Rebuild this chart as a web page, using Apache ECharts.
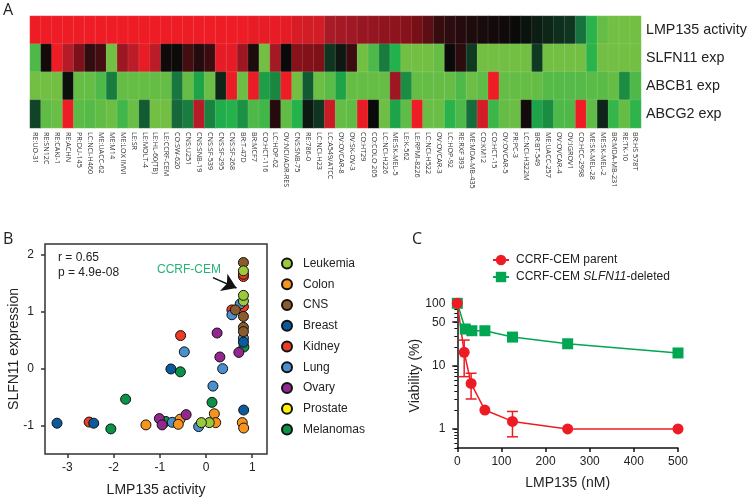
<!DOCTYPE html>
<html>
<head>
<meta charset="utf-8">
<title>LMP135</title>
<script src="https://cdn.jsdelivr.net/npm/echarts@6/dist/echarts.min.js"></script>
<style>
  html, body { margin: 0; padding: 0; background: #fff; }
  #chart { width: 750px; height: 501px; }
</style>
</head>
<body>
<div id="chart"></div>
<script>
// panel A: cell lines and heatmap rows
var cellLines = ['RE:UO-31', 'RE:SN12C', 'RE:CAKI-1', 'RE:ACHN', 'PR:DU-145', 'LC:NCI-H460', 'ME:UACC-62', 'ME:M14',
    'ME:LOX IMVI', 'LE:SR', 'LE:MOLT-4', 'LE:HL-60(TB)', 'LE:CCRF-CEM', 'CO:SW-620', 'CNS:U251', 'CNS:SNB-19',
    'CNS:SF-539', 'CNS:SF-295', 'CNS:SF-268', 'BR:T-47D', 'BR:MCF7', 'CO:HCT-116', 'LC:HOP-62', 'OV:NCI/ADR-RES',
    'CNS:SNB-75', 'RE:786-0', 'LC:NCI-H23', 'LC:A549/ATCC', 'OV:OVCAR-8', 'OV:SK-OV-3', 'CO:HT29', 'CO:COLO 205',
    'LC:NCI-H226', 'ME:SK-MEL-5', 'LE:K-562', 'LE:RPMI-8226', 'LC:NCI-H522', 'OV:OVCAR-3', 'LC:HOP-92', 'RE:RXF 393',
    'ME:MDA-MB-435', 'CO:KM12', 'CO:HCT-15', 'OV:OVCAR-5', 'PR:PC-3', 'LC:NCI-H322M', 'BR:BT-549', 'ME:UACC-257',
    'OV:OVCAR-4', 'OV:IGROV1', 'CO:HCC-2998', 'ME:SK-MEL-28', 'ME:SK-MEL-2', 'BR:MDA-MB-231', 'RE:TK-10', 'BR:HS 578T'];
var rowNames = ['LMP135 activity', 'SLFN11 exp', 'ABCB1 exp', 'ABCG2 exp'];

var lmpRow = [1, 1, 1, 1, 1, 1, 1, 1, 1, 1, 1, 1, 1, 1, 1, 1, 1, 1, 1, 1,
    .97, .97, .97, .95, .88, .85, .85, .62, .6, .56, .52, .5, .47, .45, .42, .32, .24, .13, .1, .08, .06, .04,
    .03, .02, 0, -.03, -.07, -.1, -.13, -.15, -.38, -.7, -.95, -1, -1, -1];
var slfn11Row = [-.85, .03, 1, .7, .35, .12, .17, -1, .55, .72, .97, .72, .02, .01, .17, .08, .15, .95, .95, .55,
    .06, -1, .6, 0, .42, .38, .36, -.15, -.05, .15, -1, -.85, -.42, -.67, -1, -1, -1, -.95, 0, .1, -.17,
    -1, -1, -1, -1, -1, -.17, -1, -1, -1, -1, -.7, -1, -1, -1, -1];
var abcb1Row = [-1, -1, -1, -.02, -.95, -.95, -.85, -.42, -.95, -.95, -.95, -.95, -.95, -.4, -.95, -.6, -.97, -.1, .98, -.98,
    .98, -.58, -.47, 1, -1, -.28, -.98, -.9, -.6, -.95, -.95, -.95, -.95, .55, -.5, -.95, -.95, -.95, -.95, -.85, -.98,
    -.92, 1, -.95, -.95, -.95, -.95, -.88, -.88, -.88, -.88, -.9, -.9, -.95, -.5, -.85];
var abcg2Row = [-.2, -.93, -.97, 1, -.9, -.88, -.93, -.98, -.8, -.97, -.28, -1, -1, -.33, -.43, .7, -.45, -.65, -.68, -.52,
    -.85, -.8, .08, -.93, -.68, -.05, -.15, .8, -.95, -.93, .97, 0, -.98, -.6, -.92, 1, -.97, -.97, -.7, -.85, -.35,
    .85, -.78, -.95, -.97, .03, -.6, -.5, -.85, -.85, 1, -.92, -.1, -.75, -.95, -.72];
var heatRows = [lmpRow, slfn11Row, abcb1Row, abcg2Row];

// panel B: [LMP135 activity, SLFN11 expression] per tissue
var melanomaPts = [[.82, .385], [-.555, -.05], [.13, -.585], [-1.74, -.53], [-.87, -.92], [-2.06, -1.05]];
var kidneyPts = [[.81, 1.62], [.81, 1.66], [.81, 1.09], [.56, 1.035], [-.55, .585], [-2.53, -.93]];
var lungPts = [[.74, 1.14], [.56, .95], [.81, .54], [-.47, .30], [.36, .005], [.15, -.30], [-.16, -1.01], [-.73, -.935]];
var colonPts = [[.18, -.785], [.21, -.94], [-.56, -.88], [-.60, -.97], [-1.30, -.98], [.785, -.94], [.815, -1.035]];
var breastPts = [[.81, .47], [-.76, 0], [.815, -.72], [-2.43, -.95], [-3.225, -.95]];
var ovaryPts = [[.71, .29], [.24, .63], [.30, .21], [-.43, -.80], [-1.01, -.87], [-.95, -.98]];
var prostatePts = [];
var cnsPts = [[.81, 1.865], [.81, .92], [.635, 1.035], [.81, .73], [.81, .655]];
var leukemiaPts = [[.81, 1.72], [.81, 1.19], [.81, 1.29], [.07, -.94], [-.10, -.94]];
var legendTissues = ['Leukemia', 'Colon', 'CNS', 'Breast', 'Kidney', 'Lung', 'Ovary', 'Prostate', 'Melanomas'];
var scatterXTicks = [-3, -2, -1, 0, 1];
var scatterYTicks = [-1, 0, 1, 2];

// panel C: dose response
var parentDoses = [0, 15.6, 31.25, 62.5, 125, 250, 500];
var parentViability = [100, 16.6, 5.3, 2, 1.32, 1, 1];
var parentErrors = [[15.6, 6.8, 26], [31.25, 3, 7.7], [125, .75, 1.9]];
var deletedDoses = [0, 18, 33, 62.5, 125, 250, 500];
var deletedViability = [100, 39, 36.6, 36.6, 29, 22.7, 16.2];
var viabilityLabels = [1, 10, 50, 100];
var viabilityMinorTicks = [.5, .6, .7, .8, .9, 1, 2, 3, 4, 5, 6, 7, 8, 9, 10, 20, 30, 40, 50, 60, 70, 80, 90, 100];

var textFont = '"Liberation Sans", Arial, sans-serif';
var dark = '#222';

var heatData = [];
heatRows.forEach(function (row, r) {
    row.forEach(function (v, c) {
        heatData.push([c, r, v]);
    });
});

function tissueSeries(name, pts, color) {
    return {
        name: name,
        type: 'scatter',
        xAxisIndex: 1,
        yAxisIndex: 1,
        data: pts,
        symbolSize: 10,
        itemStyle: { color: color, borderColor: '#111', borderWidth: 1, opacity: 1 }
    };
}

var leukemiaSeries = tissueSeries('Leukemia', leukemiaPts, '#9ACA3C');
var melanomaSeries = tissueSeries('Melanomas', melanomaPts, '#0A9347');
// arrow towards the CCRF-CEM point
melanomaSeries.markLine = {
    silent: true,
    symbol: ['none', 'arrow'],
    symbolSize: 14,
    label: { show: false },
    lineStyle: { color: '#111', width: 1.5, type: 'solid' },
    data: [[{ coord: [.15, 1.6] }, { coord: [.66, 1.42] }]]
};

var option = {
    animation: false,
    textStyle: { fontFamily: textFont },
    grid: [
        { left: 30, top: 16, width: 611, height: 112 },
        { left: 45, top: 244, width: 222, height: 210, show: true, borderColor: '#333', borderWidth: 1.5 },
        { left: 457.3, top: 303.3, width: 220.7, height: 144.6 }
    ],
    visualMap: {
        show: false,
        seriesIndex: 0,
        min: -1,
        max: 1,
        inRange: { color: ['#72BF44', '#22B14C', '#14693A', '#0A0A0A', '#7A0F17', '#B01C28', '#EE1C25'] }
    },
    legend: [
        {
            data: legendTissues,
            orient: 'vertical',
            left: 276,
            top: 251,
            itemWidth: 10,
            itemHeight: 10,
            itemGap: 5.75,
            icon: 'circle',
            textStyle: { fontSize: 12, color: dark, fontFamily: textFont, lineHeight: 15, padding: [0, 0, 0, 6] }
        },
        {
            data: ['CCRF-CEM parent', 'CCRF-CEM SLFN11-deleted'],
            orient: 'vertical',
            left: 487,
            top: 249,
            itemWidth: 16,
            itemHeight: 13,
            itemGap: 5,
            formatter: function (name) {
                if (name.indexOf('SLFN11') >= 0) {
                    return '{n|CCRF-CEM }{i|SLFN11}{n|-deleted}';
                }
                return '{n|' + name + '}';
            },
            textStyle: {
                fontFamily: textFont,
                padding: [0, 0, 0, 2],
                rich: {
                    n: { fontSize: 12, color: dark, fontFamily: textFont, lineHeight: 15 },
                    i: { fontSize: 12, color: dark, fontFamily: textFont, fontStyle: 'italic', lineHeight: 15 }
                }
            }
        }
    ],
    xAxis: [
        {
            gridIndex: 0,
            type: 'category',
            data: cellLines,
            axisLine: { show: false },
            axisTick: { show: false },
            axisLabel: {
                rotate: -90,
                interval: 0,
                margin: 4,
                fontSize: 7.2,
                color: '#333',
                fontFamily: '"Open Sans", sans-serif'
            }
        },
        {
            gridIndex: 1,
            type: 'value',
            min: -3.485,
            max: 1.32,
            splitLine: { show: false },
            axisLine: { show: false, onZero: false },
            axisTick: { show: true, length: 4, inside: false, customValues: scatterXTicks, lineStyle: { color: '#333', width: 1.5 } },
            axisLabel: { customValues: scatterXTicks, fontSize: 12, color: dark, margin: 8 },
            name: 'LMP135 activity',
            nameLocation: 'middle',
            nameGap: 29,
            nameTextStyle: { fontSize: 14, color: dark }
        },
        {
            gridIndex: 2,
            type: 'value',
            min: 0,
            max: 500,
            interval: 100,
            splitLine: { show: false },
            axisLine: { onZero: false, lineStyle: { color: '#111', width: 1.5 } },
            axisTick: { length: 4, lineStyle: { color: '#111', width: 1.5 } },
            axisLabel: { fontSize: 12, color: dark, margin: 8 },
            name: 'LMP135 (nM)',
            nameLocation: 'middle',
            nameGap: 28,
            nameTextStyle: { fontSize: 14, color: dark }
        }
    ],
    yAxis: [
        {
            gridIndex: 0,
            type: 'category',
            inverse: true,
            position: 'right',
            data: rowNames,
            axisLine: { show: false },
            axisTick: { show: false },
            axisLabel: { fontSize: 14.3, color: dark, margin: 5 }
        },
        {
            gridIndex: 1,
            type: 'value',
            min: -1.49,
            max: 2.19,
            splitLine: { show: false },
            axisLine: { show: false, onZero: false },
            axisTick: { show: true, length: 4, customValues: scatterYTicks, lineStyle: { color: '#333', width: 1.5 } },
            axisLabel: { customValues: scatterYTicks, fontSize: 12, color: dark, margin: 11 },
            name: 'SLFN11 expression',
            nameLocation: 'middle',
            nameMoveOverlap: false,
            nameGap: 24,
            nameTextStyle: { fontSize: 14, color: dark }
        },
        {
            gridIndex: 2,
            type: 'log',
            min: .5,
            max: 100,
            position: 'left',
            splitLine: { show: false },
            minorTick: { show: false },
            axisLine: { onZero: false, lineStyle: { color: '#111', width: 1.5 } },
            axisTick: { length: 5, customValues: viabilityLabels, lineStyle: { color: '#111', width: 1.5 } },
            axisLabel: { customValues: viabilityLabels, fontSize: 12, color: dark, margin: 12 },
            name: 'Viability (%)',
            nameLocation: 'middle',
            nameMoveOverlap: false,
            nameGap: 35,
            nameTextStyle: { fontSize: 14, color: dark }
        },
        {
            gridIndex: 2,
            type: 'log',
            min: .5,
            max: 100,
            position: 'left',
            splitLine: { show: false },
            minorTick: { show: false },
            axisLine: { show: false, onZero: false },
            axisTick: { length: 3, customValues: viabilityMinorTicks, lineStyle: { color: '#111', width: 1 } },
            axisLabel: { show: false }
        }
    ],
    series: [
        {
            type: 'heatmap',
            xAxisIndex: 0,
            yAxisIndex: 0,
            data: heatData,
            itemStyle: { borderColor: 'rgba(255,255,255,0.22)', borderWidth: 0.5 },
            emphasis: { disabled: true }
        },
        melanomaSeries,
        tissueSeries('Kidney', kidneyPts, '#EF3B24'),
        tissueSeries('Lung', lungPts, '#4A90D0'),
        tissueSeries('Colon', colonPts, '#F7941E'),
        tissueSeries('Breast', breastPts, '#0B5A9E'),
        tissueSeries('Ovary', ovaryPts, '#92278F'),
        tissueSeries('Prostate', prostatePts, '#FFF200'),
        tissueSeries('CNS', cnsPts, '#8C5B2B'),
        leukemiaSeries,
        {
            name: 'CCRF-CEM SLFN11-deleted',
            type: 'line',
            xAxisIndex: 2,
            yAxisIndex: 2,
            data: deletedDoses.map(function (d, i) { return [d, deletedViability[i]]; }),
            symbol: 'rect',
            symbolSize: 11,
            clip: false,
            lineStyle: { color: '#00A651', width: 1.5 },
            itemStyle: { color: '#00A651' }
        },
        {
            type: 'custom',
            xAxisIndex: 2,
            yAxisIndex: 2,
            data: parentErrors,
            encode: { x: 0, y: [1, 2] },
            clip: false,
            z: 3,
            renderItem: function (params, api) {
                var lo = api.coord([api.value(0), api.value(1)]);
                var hi = api.coord([api.value(0), api.value(2)]);
                var style = { stroke: '#ED1C24', lineWidth: 1.5 };
                return {
                    type: 'group',
                    children: [
                        { type: 'line', shape: { x1: lo[0], y1: lo[1], x2: hi[0], y2: hi[1] }, style: style },
                        { type: 'line', shape: { x1: lo[0] - 5.5, y1: lo[1], x2: lo[0] + 5.5, y2: lo[1] }, style: style },
                        { type: 'line', shape: { x1: hi[0] - 5.5, y1: hi[1], x2: hi[0] + 5.5, y2: hi[1] }, style: style }
                    ]
                };
            }
        },
        {
            name: 'CCRF-CEM parent',
            type: 'line',
            xAxisIndex: 2,
            yAxisIndex: 2,
            data: parentDoses.map(function (d, i) { return [d, parentViability[i]]; }),
            symbol: 'circle',
            symbolSize: 11,
            clip: false,
            lineStyle: { color: '#ED1C24', width: 1.5 },
            itemStyle: { color: '#ED1C24' }
        }
    ],
    graphic: [
        { type: 'text', left: 3, top: 2, style: { text: 'A', fontSize: 16, fontFamily: '"Open Sans", sans-serif', fill: '#222' } },
        { type: 'text', left: 3, top: 231, style: { text: 'B', fontSize: 16, fontFamily: '"Open Sans", sans-serif', fill: '#222' } },
        { type: 'text', left: 412, top: 231, style: { text: 'C', fontSize: 16, fontFamily: '"Open Sans", sans-serif', fill: '#222' } },
        { type: 'text', left: 58, top: 252, style: { text: 'r = 0.65', fontSize: 12, fontFamily: textFont, fill: '#222' } },
        { type: 'text', left: 58, top: 267, style: { text: 'p = 4.9e-08', fontSize: 12, fontFamily: textFont, fill: '#222' } },
        { type: 'text', left: 157, top: 264, style: { text: 'CCRF-CEM', fontSize: 12, fontFamily: textFont, fill: '#22B573' } }
    ]
};

var chart = echarts.init(document.getElementById('chart'));
chart.setOption(option);
</script>
</body>
</html>
